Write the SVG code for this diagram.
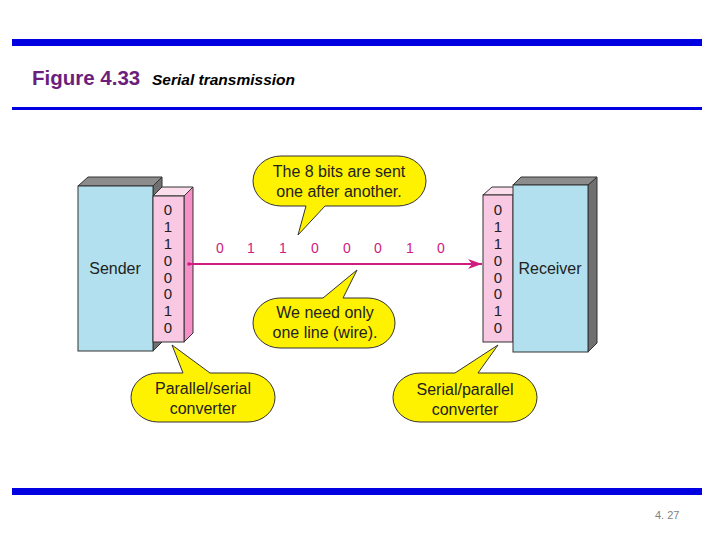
<svg xmlns="http://www.w3.org/2000/svg" width="720" height="540" viewBox="0 0 720 540">
<style>
.t{font-family:"Liberation Sans",Arial,sans-serif}
.bub{fill:#FFF200;stroke:#333;stroke-width:1}
.lbl{font-size:16px;fill:#222;text-anchor:middle}
.bit{font-size:15px;fill:#222;text-anchor:middle}
.wbit{font-size:14px;fill:#D01C80;text-anchor:middle}
.front{fill:#B2E0EE;stroke:#333;stroke-width:1}
.gtop{fill:#8C8C8C;stroke:#333;stroke-width:1}
.gside{fill:#707070;stroke:#333;stroke-width:1}
.pfront{fill:#F9C8E2;stroke:#333;stroke-width:1}
.ptop{fill:#FBDDEC;stroke:#333;stroke-width:1}
.pside{fill:#F590C8;stroke:#333;stroke-width:1}
</style>
<defs>
<marker id="ah" viewBox="0 0 14 10" refX="14" refY="5" markerWidth="14" markerHeight="10" markerUnits="userSpaceOnUse" orient="auto">
<path d="M0,0 L14,5 L0,10 L4,5 Z" fill="#D01C80"/>
</marker>
</defs>
<rect x="12" y="39" width="690" height="7" fill="#0000E0"/>
<rect x="12" y="107" width="690" height="3" fill="#0000E0"/>
<rect x="12" y="488" width="690" height="7" fill="#0000E0"/>
<text class="t" x="32" y="85" font-size="20.5" font-weight="bold" fill="#6B1E7C">Figure 4.33</text>
<text class="t" x="152" y="85" font-size="15.5" font-weight="bold" font-style="italic" fill="#000">Serial transmission</text>
<text class="t" x="655" y="519" font-size="11" fill="#808080">4. 27</text>

<g id="sender">
<polygon class="gside" points="153,186 162,177 162,342 153,351"/>
<polygon class="gtop" points="78,186 88,177 162,177 153,186"/>
<rect class="front" x="78" y="186" width="75" height="165"/>
<text class="t lbl" x="115" y="274">Sender</text>
</g>
<g id="ps-converter">
<polygon class="pside" points="184,196 193,187 193,333 184,342"/>
<polygon class="ptop" points="153,196 162,187 193,187 184,196"/>
<rect class="pfront" x="153" y="196" width="31" height="146"/>
<text class="t bit" x="168" y="215">0</text>
<text class="t bit" x="168" y="232">1</text>
<text class="t bit" x="168" y="249">1</text>
<text class="t bit" x="168" y="266">0</text>
<text class="t bit" x="168" y="283">0</text>
<text class="t bit" x="168" y="299">0</text>
<text class="t bit" x="168" y="316">1</text>
<text class="t bit" x="168" y="333">0</text>
</g>
<g id="sp-converter">
<polygon class="ptop" points="483,195 492,187 522,187 513,195"/>
<rect class="pfront" x="483" y="195" width="30" height="147"/>
<text class="t bit" x="498" y="215">0</text>
<text class="t bit" x="498" y="232">1</text>
<text class="t bit" x="498" y="249">1</text>
<text class="t bit" x="498" y="266">0</text>
<text class="t bit" x="498" y="283">0</text>
<text class="t bit" x="498" y="299">0</text>
<text class="t bit" x="498" y="316">1</text>
<text class="t bit" x="498" y="333">0</text>
</g>
<g id="receiver">
<polygon class="gside" points="588,185 597,177 597,343 588,352"/>
<polygon class="gtop" points="513,185 521,177 597,177 588,185"/>
<rect class="front" x="513" y="185" width="75" height="167"/>
<text class="t lbl" x="550" y="274">Receiver</text>
</g>

<g id="connectors">
<circle cx="189" cy="264" r="1.8" fill="#D01C80"/>
<line x1="189" y1="264" x2="482" y2="264" stroke="#D01C80" stroke-width="1.8" marker-end="url(#ah)"/>
<text class="t wbit" x="220" y="253">0</text>
<text class="t wbit" x="251" y="253">1</text>
<text class="t wbit" x="283" y="253">1</text>
<text class="t wbit" x="315" y="253">0</text>
<text class="t wbit" x="347" y="253">0</text>
<text class="t wbit" x="378" y="253">0</text>
<text class="t wbit" x="410" y="253">1</text>
<text class="t wbit" x="441" y="253">0</text>
</g>

<g id="callout-bits">
<path class="bub" d="M281,156 H398 A28,25 0 0 1 398,206 H325 L298,235 L306,206 H281 A28,25 0 0 1 281,156 Z"/>
<text class="t lbl" x="339" y="177">The 8 bits are sent</text>
<text class="t lbl" x="339" y="197">one after another.</text>
</g>
<g id="callout-line">
<path class="bub" d="M280,298 H323 L357,270 L343,298 H368 A27,25 0 0 1 368,348 H280 A27,25 0 0 1 280,298 Z"/>
<text class="t lbl" x="325" y="318">We need only</text>
<text class="t lbl" x="325" y="338">one line (wire).</text>
</g>
<g id="callout-ps">
<path class="bub" d="M158,373 H183 L172,345 L210,373 H248 A27,24.5 0 0 1 248,422 H158 A27,24.5 0 0 1 158,373 Z"/>
<text class="t lbl" x="203" y="394">Parallel/serial</text>
<text class="t lbl" x="203" y="414">converter</text>
</g>
<g id="callout-sp">
<path class="bub" d="M420,373 H455 L498,345 L478,373 H510 A27,24.5 0 0 1 510,422 H420 A27,24.5 0 0 1 420,373 Z"/>
<text class="t lbl" x="465" y="395">Serial/parallel</text>
<text class="t lbl" x="465" y="415">converter</text>
</g>
</svg>
